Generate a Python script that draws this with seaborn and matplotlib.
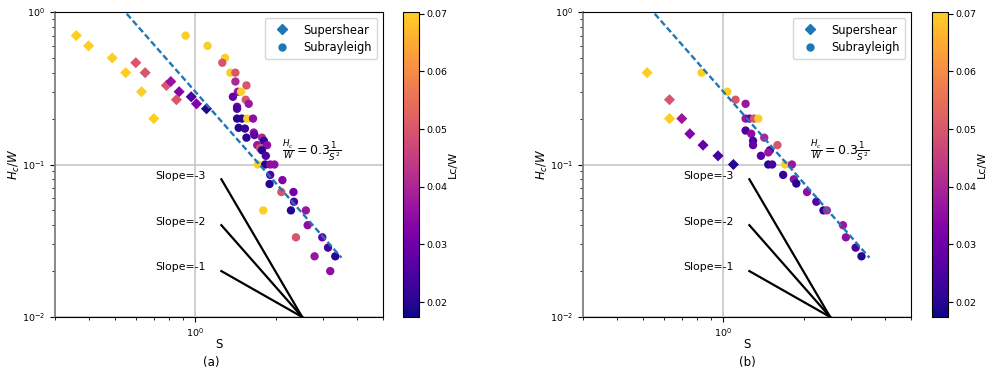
import numpy as np
import pandas as pd
import matplotlib
matplotlib.use("Agg")
import matplotlib.pyplot as plt
import seaborn as sns
from matplotlib.colors import Normalize, ListedColormap
from matplotlib.lines import Line2D
from matplotlib.ticker import NullFormatter
from matplotlib.cm import ScalarMappable

# ---------------- data: panel (a) ----------------
a_super_S = [0.36, 0.40, 0.49, 0.60, 0.55, 0.65, 0.63, 0.70, 0.78, 0.81, 0.87, 0.85, 0.965, 1.01, 1.10]
a_super_H = [0.70, 0.60, 0.50, 0.465, 0.40, 0.40, 0.30, 0.20, 0.33, 0.35, 0.30, 0.266, 0.278, 0.25, 0.232]
a_super_L = [0.07, 0.07, 0.07, 0.05, 0.07, 0.05, 0.07, 0.07, 0.05, 0.036, 0.033, 0.05, 0.025, 0.033, 0.02]

a_sub_S = [0.92, 1.11, 1.29, 1.26, 1.35, 1.41, 1.41, 1.55, 1.44, 1.48, 1.38, 1.54, 1.58, 1.43, 1.43,
           1.43, 1.49, 1.56, 1.64, 1.45, 1.53, 1.65, 1.66, 1.55, 1.77, 1.80, 1.70, 1.74, 1.85, 1.77,
           1.83, 1.71, 1.82, 1.90, 1.97, 1.90, 2.11, 1.89, 2.32, 2.09, 2.33, 1.79, 2.27, 2.58, 2.62,
           2.37, 2.97, 3.12, 2.78, 3.32, 3.18]
a_sub_H = [0.70, 0.60, 0.50, 0.465, 0.40, 0.40, 0.35, 0.33, 0.30, 0.30, 0.278, 0.266, 0.25, 0.239, 0.232,
           0.20, 0.20, 0.20, 0.20, 0.174, 0.172, 0.162, 0.156, 0.15, 0.15, 0.143, 0.134, 0.128, 0.134, 0.124,
           0.114, 0.10, 0.10, 0.10, 0.10, 0.0855, 0.079, 0.0745, 0.066, 0.066, 0.057, 0.050, 0.050, 0.050, 0.040,
           0.0333, 0.0333, 0.0285, 0.025, 0.025, 0.020]
a_sub_L = [0.07, 0.07, 0.07, 0.05, 0.07, 0.05, 0.04, 0.05, 0.037, 0.07, 0.028, 0.05, 0.037, 0.03, 0.025,
           0.02, 0.02, 0.07, 0.035, 0.02, 0.022, 0.035, 0.027, 0.02, 0.04, 0.022, 0.037, 0.048, 0.035, 0.02,
           0.025, 0.07, 0.02, 0.035, 0.035, 0.025, 0.033, 0.02, 0.03, 0.05, 0.025, 0.07, 0.02, 0.037, 0.035,
           0.05, 0.028, 0.024, 0.037, 0.02, 0.035]

# ---------------- data: panel (b) ----------------
b_super_S = [0.52, 0.63, 0.63, 0.70, 0.75, 0.84, 0.955, 1.09]
b_super_H = [0.40, 0.266, 0.20, 0.20, 0.159, 0.134, 0.114, 0.10]
b_super_L = [0.07, 0.05, 0.07, 0.037, 0.033, 0.028, 0.024, 0.02]

b_sub_S = [0.83, 1.035, 1.11, 1.21, 1.21, 1.25, 1.30, 1.35, 1.21, 1.27, 1.29, 1.29, 1.42, 1.59, 1.49,
           1.47, 1.38, 1.47, 1.52, 1.70, 1.80, 1.67, 1.83, 1.87, 2.05, 2.22, 2.36, 2.43, 2.79, 2.86,
           3.11, 3.27]
b_sub_H = [0.40, 0.30, 0.266, 0.25, 0.20, 0.20, 0.20, 0.20, 0.167, 0.159, 0.143, 0.134, 0.15, 0.134, 0.124,
           0.12, 0.114, 0.10, 0.10, 0.10, 0.10, 0.0855, 0.080, 0.075, 0.066, 0.057, 0.050, 0.050, 0.040, 0.0333,
           0.0285, 0.025]
b_sub_L = [0.07, 0.07, 0.05, 0.037, 0.037, 0.03, 0.05, 0.07, 0.025, 0.035, 0.024, 0.028, 0.04, 0.05, 0.022,
           0.037, 0.026, 0.02, 0.024, 0.07, 0.037, 0.022, 0.035, 0.02, 0.035, 0.026, 0.02, 0.04, 0.037, 0.035,
           0.025, 0.02]

# fit line and slope guides
fit_coef = 0.3
fit_S_range = [0.5, 3.5]
slope_exponents = [1, 2, 3]
slope_origin = (2.5, 0.01)
slope_start_S = 1.25
slope_text_S = 0.71
slope_text_H = [0.0213, 0.042, 0.084]

Lc_min, Lc_max = 0.0174, 0.0703
panel_labels = ["(a)", "(b)"]

panels = [
    (a_super_S, a_super_H, a_super_L, a_sub_S, a_sub_H, a_sub_L),
    (b_super_S, b_super_H, b_super_L, b_sub_S, b_sub_H, b_sub_L),
]

fig = plt.figure(figsize=(9.9, 3.75), dpi=100)
norm = Normalize(vmin=Lc_min, vmax=Lc_max)
cmap = ListedColormap(plt.get_cmap("plasma")(np.linspace(0.0, 0.9, 256)))

ax_rects = [[55/990, 58/375, 328/990, 305/375], [583/990, 58/375, 328/990, 305/375]]
cb_rects = [[403/990, 58/375, 16/990, 305/375], [932/990, 58/375, 16/990, 305/375]]
label_x = [0.476, 0.5]

for i, (sS, sH, sL, rS, rH, rL) in enumerate(panels):
    ax = fig.add_axes(ax_rects[i])
    ax.set_xscale("log")
    ax.set_yscale("log")
    ax.set_xlim(0.3, 5)
    ax.set_ylim(0.01, 1)
    ax.grid(True, which="major", color="#cccccc", linewidth=1.3, zorder=0)
    ax.set_axisbelow(True)

    df_sup = pd.DataFrame({"S": sS, "H": sH, "L": sL})
    df_sub = pd.DataFrame({"S": rS, "H": rH, "L": rL})
    sns.scatterplot(data=df_sup, x="S", y="H", hue="L", palette=cmap, hue_norm=norm,
                    marker="D", s=32, linewidth=0, legend=False, ax=ax, zorder=3)
    sns.scatterplot(data=df_sub, x="S", y="H", hue="L", palette=cmap, hue_norm=norm,
                    marker="o", s=36, linewidth=0, legend=False, ax=ax, zorder=3)

    Sf = np.geomspace(fit_S_range[0], fit_S_range[1], 50)
    ax.plot(Sf, fit_coef / Sf**2, color="#1f77b4", linestyle=(0, (2.6, 1.3)), linewidth=1.7, zorder=4)

    for k in slope_exponents:
        Ss = np.array([slope_start_S, slope_origin[0]])
        ax.plot(Ss, slope_origin[1] * (Ss / slope_origin[0]) ** (-k), color="black", linewidth=1.6, zorder=4)
    for k, th in zip(slope_exponents, slope_text_H):
        ax.text(slope_text_S, th, f"Slope=-{k}", fontsize=7.8, va="center", ha="left")

    ax.text(2.1, 0.124, r"$\frac{H_c}{W} = 0.3\frac{1}{S^2}$", fontsize=9, va="center", ha="left")

    ax.xaxis.set_minor_formatter(NullFormatter())
    ax.tick_params(axis="both", which="major", labelsize=6.8)
    ax.spines["left"].set_color("#808080")
    ax.spines["left"].set_linewidth(1.3)
    ax.set_xlabel("S", fontsize=8.5)
    ax.xaxis.set_label_coords(0.5, -0.07)
    ax.set_ylabel(r"$H_c/W$", fontsize=8.5)
    ax.yaxis.set_label_coords(-0.10, 0.5)
    ax.text(label_x[i], -0.15, panel_labels[i], transform=ax.transAxes, fontsize=8.5,
            ha="center", va="center")

    handles = [Line2D([], [], marker="D", color="#1f77b4", linestyle="none", markersize=5),
               Line2D([], [], marker="o", color="#1f77b4", linestyle="none", markersize=5)]
    ax.legend(handles, ["Supershear", "Subrayleigh"], loc="upper right", fontsize=8.3,
              handletextpad=0.8, borderpad=0.5, labelspacing=0.35)

    cax = fig.add_axes(cb_rects[i])
    sm = ScalarMappable(norm=norm, cmap=cmap)
    cb = fig.colorbar(sm, cax=cax)
    cb.set_ticks([0.02, 0.03, 0.04, 0.05, 0.06, 0.07])
    cb.ax.tick_params(labelsize=6.8, pad=2)
    cb.set_label("Lc/W", fontsize=8, labelpad=0)

fig.savefig("out.png", dpi=100)
